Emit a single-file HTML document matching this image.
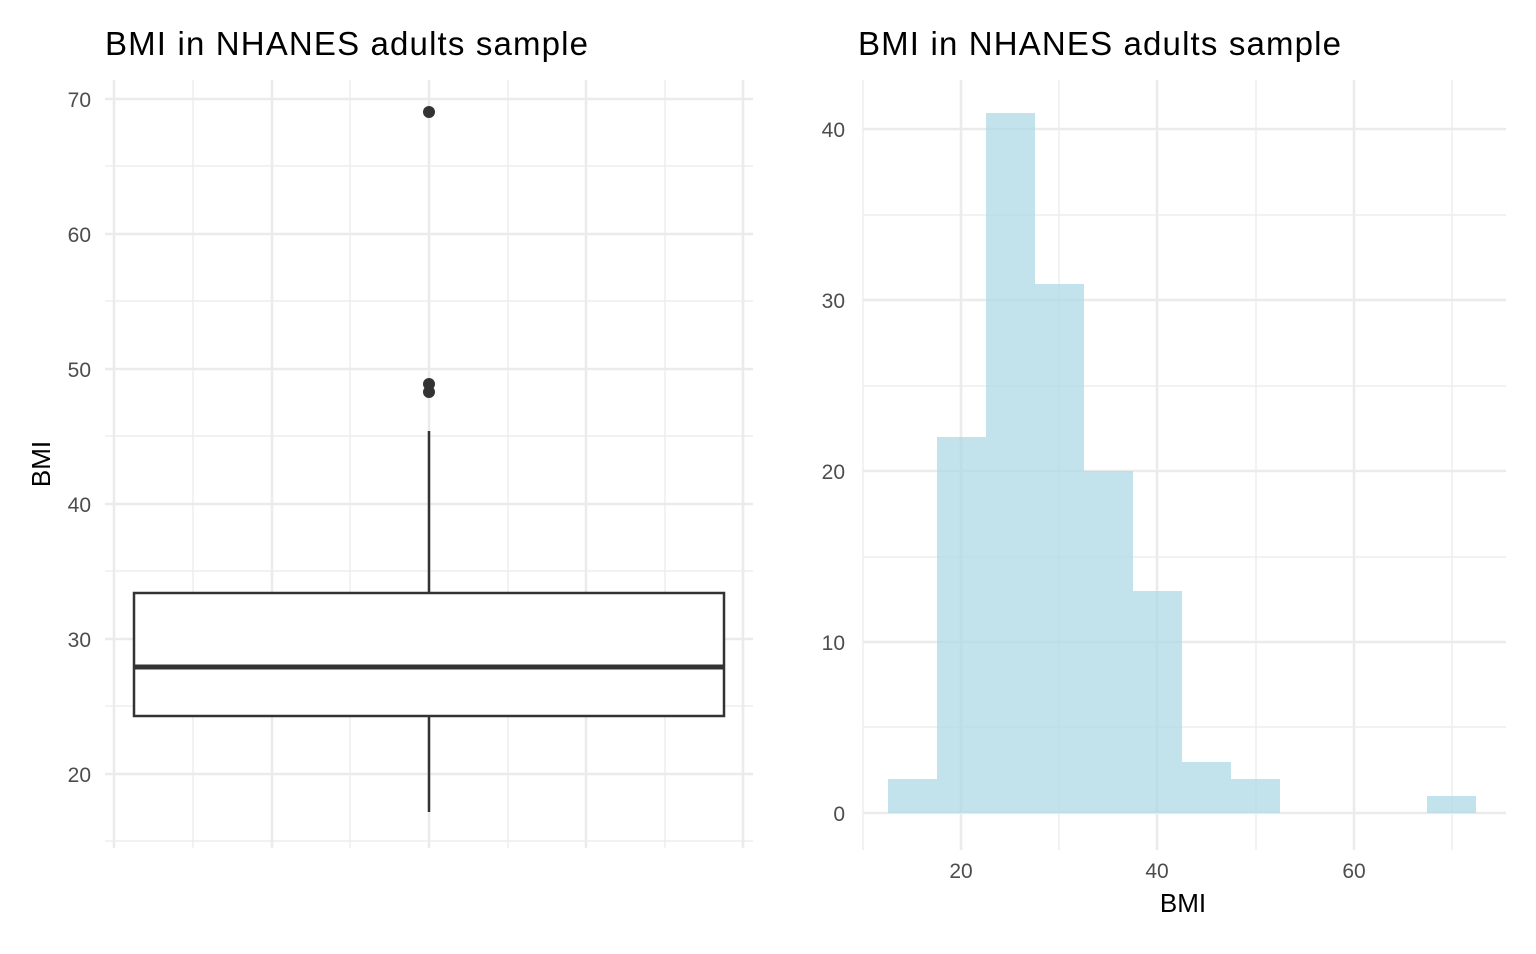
<!DOCTYPE html>
<html><head><meta charset="utf-8"><style>html,body{margin:0;padding:0;background:#fff}</style></head><body>
<svg width="1536" height="949" xmlns="http://www.w3.org/2000/svg" font-family="Liberation Sans, sans-serif">
<rect width="1536" height="949" fill="#fff"/>
<g stroke="#ebebeb" stroke-width="1.3">
<line x1="105" x2="753" y1="166" y2="166"/><line x1="105" x2="753" y1="301" y2="301"/><line x1="105" x2="753" y1="436" y2="436"/><line x1="105" x2="753" y1="571" y2="571"/><line x1="105" x2="753" y1="706" y2="706"/><line x1="105" x2="753" y1="841" y2="841"/>
<line x1="193" x2="193" y1="80" y2="848"/><line x1="350" x2="350" y1="80" y2="848"/><line x1="508" x2="508" y1="80" y2="848"/><line x1="665" x2="665" y1="80" y2="848"/>
</g>
<g stroke="#ebebeb" stroke-width="2.6">
<line x1="105" x2="753" y1="99" y2="99"/><line x1="105" x2="753" y1="234" y2="234"/><line x1="105" x2="753" y1="369" y2="369"/><line x1="105" x2="753" y1="504" y2="504"/><line x1="105" x2="753" y1="639" y2="639"/><line x1="105" x2="753" y1="774" y2="774"/>
<line x1="114" x2="114" y1="80" y2="848"/><line x1="272" x2="272" y1="80" y2="848"/><line x1="429" x2="429" y1="80" y2="848"/><line x1="586" x2="586" y1="80" y2="848"/><line x1="743" x2="743" y1="80" y2="848"/>
</g>
<g stroke="#333" stroke-width="2.5" fill="none">
<line x1="429" x2="429" y1="431" y2="593"/><line x1="429" x2="429" y1="716" y2="812"/>
<rect x="134" y="593" width="590" height="123" fill="#fff"/>
<line x1="134" x2="724" y1="667" y2="667" stroke-width="5"/>
</g>
<g fill="#333"><circle cx="429" cy="112" r="6"/><circle cx="429" cy="384" r="6"/><circle cx="429" cy="392" r="6"/></g>
<g fill="#4d4d4d" font-size="21" text-anchor="end">
<text x="91" y="107">70</text><text x="91" y="242">60</text><text x="91" y="377">50</text><text x="91" y="512">40</text><text x="91" y="647">30</text><text x="91" y="782">20</text>
</g>
<text transform="translate(50,464) rotate(-90)" font-size="26" text-anchor="middle" fill="#000">BMI</text>
<text x="105" y="55" font-size="33" fill="#000" textLength="483">BMI in NHANES adults sample</text>
<g stroke="#ebebeb" stroke-width="1.3">
<line x1="863" x2="1506" y1="215" y2="215"/><line x1="863" x2="1506" y1="386" y2="386"/><line x1="863" x2="1506" y1="557" y2="557"/><line x1="863" x2="1506" y1="727" y2="727"/>
<line x1="863" x2="863" y1="80" y2="850"/><line x1="1059" x2="1059" y1="80" y2="850"/><line x1="1256" x2="1256" y1="80" y2="850"/><line x1="1452" x2="1452" y1="80" y2="850"/>
</g>
<g stroke="#ebebeb" stroke-width="2.6">
<line x1="863" x2="1506" y1="129" y2="129"/><line x1="863" x2="1506" y1="300" y2="300"/><line x1="863" x2="1506" y1="471" y2="471"/><line x1="863" x2="1506" y1="642" y2="642"/><line x1="863" x2="1506" y1="813" y2="813"/>
<line x1="961" x2="961" y1="80" y2="850"/><line x1="1157" x2="1157" y1="80" y2="850"/><line x1="1354" x2="1354" y1="80" y2="850"/>
</g>
<g fill="#add8e6" fill-opacity="0.75">
<rect x="888" y="779" width="49" height="34"/>
<rect x="937" y="437" width="49" height="376"/>
<rect x="986" y="113" width="49" height="700"/>
<rect x="1035" y="284" width="49" height="529"/>
<rect x="1084" y="471" width="49" height="342"/>
<rect x="1133" y="591" width="49" height="222"/>
<rect x="1182" y="762" width="49" height="51"/>
<rect x="1231" y="779" width="49" height="34"/>
<rect x="1427" y="796" width="49" height="17"/>
</g>
<g fill="#4d4d4d" font-size="21" text-anchor="end">
<text x="845" y="137">40</text><text x="845" y="308">30</text><text x="845" y="479">20</text><text x="845" y="650">10</text><text x="845" y="821">0</text>
</g>
<g fill="#4d4d4d" font-size="21" text-anchor="middle">
<text x="961" y="878">20</text><text x="1157" y="878">40</text><text x="1354" y="878">60</text>
</g>
<text x="1183" y="912" font-size="26" text-anchor="middle" fill="#000">BMI</text>
<text x="858" y="55" font-size="33" fill="#000" textLength="483">BMI in NHANES adults sample</text>
</svg>
</body></html>
